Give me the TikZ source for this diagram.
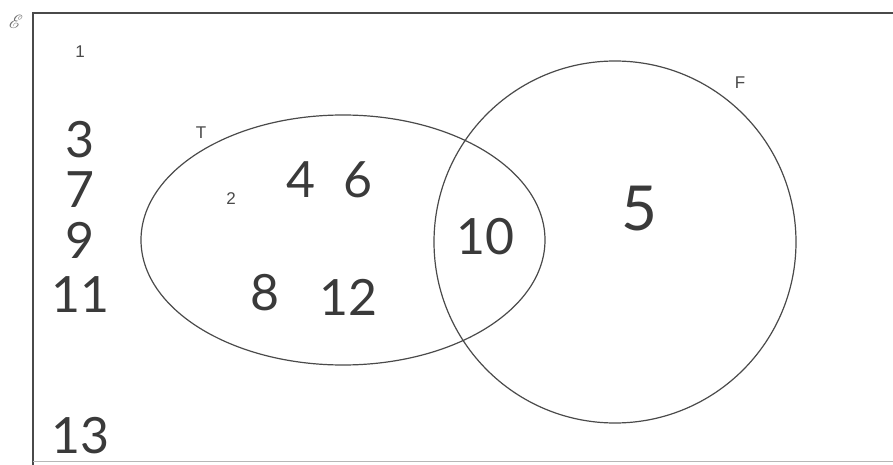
\documentclass[tikz,border=0pt]{standalone}
\usepackage{fontspec}
\usepackage{mathrsfs}
\setmainfont{Lato}
\newfontfamily\printed{Liberation Sans}
\definecolor{ink}{HTML}{4A4A4A}
\definecolor{pen}{HTML}{3A3A3A}
\begin{document}
\begin{tikzpicture}[x=1pt,y=-1pt,
  setline/.style={draw=ink,line width=1.2pt},
  small/.style={font=\printed\fontsize{17}{17}\selectfont,text=ink,inner sep=0pt},
  hand/.style={font=\fontsize{50}{50}\selectfont,text=pen,inner sep=0pt}]
\useasboundingbox (0,0) rectangle (893,465);
\fill[white] (0,0) rectangle (893,465);
% universal set frame (clipped by picture edges)
\draw[ink,line width=1.3pt] (33,470) -- (33,13) -- (900,13);
\draw[ink!40,line width=0.8pt] (33,461) -- (900,461);
\node[text=ink!80,inner sep=0pt,scale=1.9] (U) at (16,22) {$\mathscr{E}$};
% sets
\draw[setline] (343,240) ellipse [x radius=202, y radius=125];
\draw[setline] (615,242) circle [radius=181];
\node[small] (T) at (201,133) {T};
\node[small] (F) at (740,83) {F};
% outside elements
\node[small] (e1) at (80,52) {1};
\node[hand] (e3) at (80,140) {3};
\node[hand] (e7) at (80,190) {7};
\node[hand] (e9) at (80,240) {9};
\node[hand] (e11) at (80,295) {11};
\node[hand] (e13) at (80,436) {13};
% T only
\node[small] (e2) at (231,199) {2};
\node[hand] (e4) at (301,180) {4};
\node[hand] (e6) at (358,180) {6};
\node[hand] (e8) at (265,293) {8};
\node[hand] (e12) at (348,297) {12};
% intersection
\node[hand] (e10) at (485,237) {10};
% F only
\node[hand,font=\fontsize{62}{62}\selectfont] (e5) at (639,209) {5};
\end{tikzpicture}
\end{document}
